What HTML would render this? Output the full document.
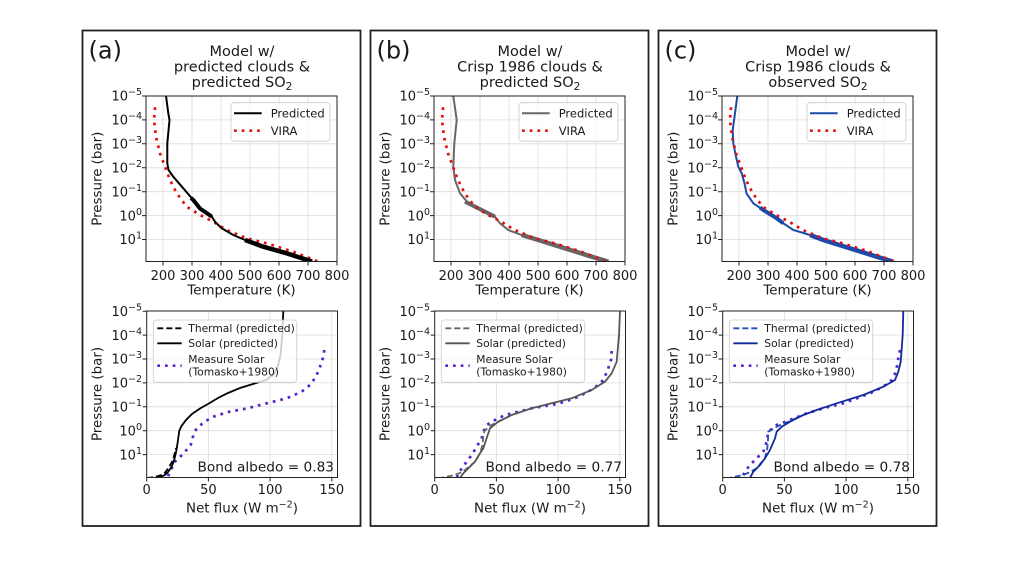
<!DOCTYPE html>
<html><head><meta charset="utf-8">
<style>
html,body{margin:0;padding:0;background:#fff;}
svg{display:block;}
text{font-family:"DejaVu Sans","Liberation Sans",sans-serif;fill:#1a1a1a;}
.g{stroke:#dcdcdc;stroke-width:0.8;fill:none;}
.sp{stroke:#222;stroke-width:1;fill:none;}
.tk{stroke:#222;stroke-width:1;}
.yt{font-size:13px;text-anchor:end;}
.xt{font-size:13px;text-anchor:middle;}
.al{font-size:13.4px;text-anchor:middle;}
.ti{font-size:14.5px;text-anchor:middle;}
.lg{font-size:11.5px;}
.lg2{font-size:10.7px;}
.ba{font-size:13.7px;text-anchor:end;}
.vira{fill:none;stroke:#e01010;stroke-width:2.7;stroke-dasharray:2.7 5;}
.meas{fill:none;stroke:#5a22cc;stroke-width:2.7;stroke-dasharray:2.7 5;}
</style></head>
<body>
<svg width="1024" height="577" viewBox="0 0 1024 577" xmlns="http://www.w3.org/2000/svg">
<rect width="1024" height="577" fill="#fff"/>
<defs>
<clipPath id="ct"><rect x="146" y="96" width="191" height="165.5"/></clipPath>
<clipPath id="cb"><rect x="146.7" y="311" width="190.8" height="166.5"/></clipPath>
</defs>

<!-- ================= PANEL A ================= -->
<g>
<rect x="82.5" y="30.5" width="278" height="495.5" fill="none" stroke="#222" stroke-width="1.8"/>
<text x="88.5" y="58.5" font-size="24">(a)</text>
<text class="ti" x="242" y="56">Model w/</text>
<text class="ti" x="242" y="71.5">predicted clouds &amp;</text>
<text class="ti" x="242" y="87">predicted SO<tspan font-size="10.5" dy="3">2</tspan></text>

<g class="g">
<path d="M163,96V261.5M192,96V261.5M221,96V261.5M250,96V261.5M279,96V261.5M308,96V261.5"/>
<path d="M146,119.9H337M146,143.8H337M146,167.8H337M146,191.7H337M146,215.6H337M146,239.5H337"/>
</g>
<g clip-path="url(#ct)">
<path class="vira" d="M155,107.3 L154,120 L156,136.7 L160,153.3 L165,166.7 L170,180 L176.7,193.3 L186.7,206.7 L200,215 L213.3,221.7 L226.7,230 L246.7,238.3 L266.7,243.3 L293.3,251.7 L318.3,261.7 L322,263"/>
<path fill="none" stroke="#000" stroke-width="2" d="M166,96 L168.3,113.3 L169.5,120 L167.3,143.3 L167.3,163.3 L168.5,170 L173.3,176.7 L183.3,188.3 L193.3,200 L200,208.5 L211.7,216.5 L215,221.7 L221.7,228.3 L233.3,235 L245,240 L263.3,246.7 L286.7,253.3 L312,261.5"/>
<path fill="none" stroke="#000" stroke-width="4" d="M191,198 L193.3,200 L200,208.5 L211.7,216.5"/>
<path fill="none" stroke="#000" stroke-width="4.5" d="M245,240 L263.3,246.7 L286.7,253.3 L312,261.5"/>
</g>
<rect x="231" y="102.7" width="99" height="38.5" rx="3" fill="#fff" fill-opacity="0.8" stroke="#cccccc" stroke-width="0.8"/>
<line x1="234" y1="113.3" x2="261.7" y2="113.3" stroke="#000" stroke-width="2"/>
<text class="lg" x="270.7" y="117.5">Predicted</text>
<line class="vira" x1="234" y1="130.7" x2="261.7" y2="130.7"/>
<text class="lg" x="270.7" y="134.9">VIRA</text>
<rect class="sp" x="146" y="96" width="191" height="165.5"/>
<path class="tk" d="M142,96H146M142,119.9H146M142,143.8H146M142,167.8H146M142,191.7H146M142,215.6H146M142,239.5H146"/>
<path class="tk" d="M163,261.5V265.5M192,261.5V265.5M221,261.5V265.5M250,261.5V265.5M279,261.5V265.5M308,261.5V265.5M337,261.5V265.5"/>
<text class="yt" x="142" y="100.7">10<tspan dy="-5.5" font-size="9.5">−5</tspan></text>
<text class="yt" x="142" y="124.6">10<tspan dy="-5.5" font-size="9.5">−4</tspan></text>
<text class="yt" x="142" y="148.5">10<tspan dy="-5.5" font-size="9.5">−3</tspan></text>
<text class="yt" x="142" y="172.5">10<tspan dy="-5.5" font-size="9.5">−2</tspan></text>
<text class="yt" x="142" y="196.4">10<tspan dy="-5.5" font-size="9.5">−1</tspan></text>
<text class="yt" x="142" y="220.3">10<tspan dy="-5.5" font-size="9.5">0</tspan></text>
<text class="yt" x="142" y="244.2">10<tspan dy="-5.5" font-size="9.5">1</tspan></text>
<text class="xt" x="163" y="280">200</text>
<text class="xt" x="192" y="280">300</text>
<text class="xt" x="221" y="280">400</text>
<text class="xt" x="250" y="280">500</text>
<text class="xt" x="279" y="280">600</text>
<text class="xt" x="308" y="280">700</text>
<text class="xt" x="337" y="280">800</text>
<text class="al" x="241.5" y="294.5">Temperature (K)</text>
<text class="al" transform="translate(101.5,178.7) rotate(-90)">Pressure (bar)</text>

<g class="g">
<path d="M208.4,311V477.5M270.1,311V477.5M331.8,311V477.5"/>
<path d="M146.7,335.1H337.5M146.7,359H337.5M146.7,382.9H337.5M146.7,406.8H337.5M146.7,430.7H337.5M146.7,454.6H337.5"/>
</g>
<g clip-path="url(#cb)">
<path class="meas" d="M324.3,350 L323.3,357 L320,366.7 L316,376.7 L310,385 L301.7,391.7 L286.7,398.3 L266.7,403.3 L246.7,408.5 L228,412 L214,416.5 L205,421.5 L198,427 L195,431 L192.5,438 L190.7,445 L185,451.7 L180,457 L175,461.7 L170,471.7 L167.3,478"/>
<path fill="none" stroke="#000" stroke-width="1.8" stroke-dasharray="6 3" d="M147,478 L153,477.3 L160,475.5 L165,472.7 L169,467 L172,462 L174,456 L176,448"/>
<path fill="none" stroke="#000" stroke-width="1.8" d="M283.3,311 L282.3,335 L280.5,355 L278,366 L274,374 L266,380 L253,384 L240,388 L228,393 L218,398 L208,404 L200,408.5 L192,414 L186,420 L181.5,426 L179.3,430.7 L178,440 L176.5,450 L175,456.7 L173.5,462 L171.7,466.7 L168,472 L165,475 L160,477 L157,478"/>
</g>
<rect x="153.3" y="320" width="143.4" height="62.3" rx="3" fill="#fff" fill-opacity="0.8" stroke="#cccccc" stroke-width="0.8"/>
<line x1="157.3" y1="328.3" x2="181.7" y2="328.3" stroke="#000" stroke-width="1.8" stroke-dasharray="6 3"/>
<text class="lg2" x="188.3" y="332">Thermal (predicted)</text>
<line x1="157.3" y1="343.3" x2="181.7" y2="343.3" stroke="#000" stroke-width="1.8"/>
<text class="lg2" x="188.3" y="347">Solar (predicted)</text>
<line class="meas" x1="157.3" y1="365.7" x2="181.7" y2="365.7"/>
<text class="lg2" x="188.3" y="363">Measure Solar</text>
<text class="lg2" x="188.3" y="375.5">(Tomasko+1980)</text>
<text class="ba" x="334" y="471.5">Bond albedo = 0.83</text>
<rect class="sp" x="146.7" y="311" width="190.8" height="166.5"/>
<path class="tk" d="M142.7,311.2H146.7M142.7,335.1H146.7M142.7,359H146.7M142.7,382.9H146.7M142.7,406.8H146.7M142.7,430.7H146.7M142.7,454.6H146.7"/>
<path class="tk" d="M146.7,477.5V481.5M208.4,477.5V481.5M270.1,477.5V481.5M331.8,477.5V481.5"/>
<text class="yt" x="142" y="315.9">10<tspan dy="-5.5" font-size="9.5">−5</tspan></text>
<text class="yt" x="142" y="339.8">10<tspan dy="-5.5" font-size="9.5">−4</tspan></text>
<text class="yt" x="142" y="363.7">10<tspan dy="-5.5" font-size="9.5">−3</tspan></text>
<text class="yt" x="142" y="387.6">10<tspan dy="-5.5" font-size="9.5">−2</tspan></text>
<text class="yt" x="142" y="411.5">10<tspan dy="-5.5" font-size="9.5">−1</tspan></text>
<text class="yt" x="142" y="435.4">10<tspan dy="-5.5" font-size="9.5">0</tspan></text>
<text class="yt" x="142" y="459.3">10<tspan dy="-5.5" font-size="9.5">1</tspan></text>
<text class="xt" x="146.7" y="494">0</text>
<text class="xt" x="208.4" y="494">50</text>
<text class="xt" x="270.1" y="494">100</text>
<text class="xt" x="331.8" y="494">150</text>
<text class="al" x="242" y="512.5">Net flux (W m<tspan dy="-5" font-size="9.5">−2</tspan><tspan dy="5">)</tspan></text>
<text class="al" transform="translate(101.5,394) rotate(-90)">Pressure (bar)</text>
</g>

<!-- ================= PANEL B ================= -->
<g transform="translate(288,0)">
<rect x="82.5" y="30.5" width="278" height="495.5" fill="none" stroke="#222" stroke-width="1.8"/>
<text x="88.5" y="58.5" font-size="24">(b)</text>
<text class="ti" x="242" y="56">Model w/</text>
<text class="ti" x="242" y="71.5">Crisp 1986 clouds &amp;</text>
<text class="ti" x="242" y="87">predicted SO<tspan font-size="10.5" dy="3">2</tspan></text>

<g class="g">
<path d="M163,96V261.5M192,96V261.5M221,96V261.5M250,96V261.5M279,96V261.5M308,96V261.5"/>
<path d="M146,119.9H337M146,143.8H337M146,167.8H337M146,191.7H337M146,215.6H337M146,239.5H337"/>
</g>
<g clip-path="url(#ct)">
<path fill="none" stroke="#666" stroke-width="2" d="M165.3,96 L168.7,120 L166.3,143.3 L165.3,166.7 L167,180 L172,193.3 L180.3,203.3 L193.7,210 L207,216.7 L212,223.3 L220.3,230 L233.7,235 L250.3,240 L277,248.3 L303.7,256.7 L320.3,261.7 L324,263"/>
<path fill="none" stroke="#666" stroke-width="4" d="M177,201.5 L180.3,203.3 L193.7,210 L207,216.7"/>
<path fill="none" stroke="#666" stroke-width="4.5" d="M233.7,235 L250.3,240 L277,248.3 L303.7,256.7 L320.3,261.7"/>
<path class="vira" d="M155,107.3 L154,120 L156,136.7 L160,153.3 L165,166.7 L170,180 L176.7,193.3 L186.7,206.7 L200,215 L213.3,221.7 L226.7,230 L246.7,238.3 L266.7,243.3 L293.3,251.7 L318.3,261.7 L322,263"/>
</g>
<rect x="231" y="102.7" width="99" height="38.5" rx="3" fill="#fff" fill-opacity="0.8" stroke="#cccccc" stroke-width="0.8"/>
<line x1="234" y1="113.3" x2="261.7" y2="113.3" stroke="#666" stroke-width="2"/>
<text class="lg" x="270.7" y="117.5">Predicted</text>
<line class="vira" x1="234" y1="130.7" x2="261.7" y2="130.7"/>
<text class="lg" x="270.7" y="134.9">VIRA</text>
<rect class="sp" x="146" y="96" width="191" height="165.5"/>
<path class="tk" d="M142,96H146M142,119.9H146M142,143.8H146M142,167.8H146M142,191.7H146M142,215.6H146M142,239.5H146"/>
<path class="tk" d="M163,261.5V265.5M192,261.5V265.5M221,261.5V265.5M250,261.5V265.5M279,261.5V265.5M308,261.5V265.5M337,261.5V265.5"/>
<text class="yt" x="142" y="100.7">10<tspan dy="-5.5" font-size="9.5">−5</tspan></text>
<text class="yt" x="142" y="124.6">10<tspan dy="-5.5" font-size="9.5">−4</tspan></text>
<text class="yt" x="142" y="148.5">10<tspan dy="-5.5" font-size="9.5">−3</tspan></text>
<text class="yt" x="142" y="172.5">10<tspan dy="-5.5" font-size="9.5">−2</tspan></text>
<text class="yt" x="142" y="196.4">10<tspan dy="-5.5" font-size="9.5">−1</tspan></text>
<text class="yt" x="142" y="220.3">10<tspan dy="-5.5" font-size="9.5">0</tspan></text>
<text class="yt" x="142" y="244.2">10<tspan dy="-5.5" font-size="9.5">1</tspan></text>
<text class="xt" x="163" y="280">200</text>
<text class="xt" x="192" y="280">300</text>
<text class="xt" x="221" y="280">400</text>
<text class="xt" x="250" y="280">500</text>
<text class="xt" x="279" y="280">600</text>
<text class="xt" x="308" y="280">700</text>
<text class="xt" x="337" y="280">800</text>
<text class="al" x="241.5" y="294.5">Temperature (K)</text>
<text class="al" transform="translate(101.5,178.7) rotate(-90)">Pressure (bar)</text>

<g class="g">
<path d="M208.4,311V477.5M270.1,311V477.5M331.8,311V477.5"/>
<path d="M146.7,335.1H337.5M146.7,359H337.5M146.7,382.9H337.5M146.7,406.8H337.5M146.7,430.7H337.5M146.7,454.6H337.5"/>
</g>
<g clip-path="url(#cb)">
<path class="meas" d="M323.7,351 L323,360 L319.7,370 L315.3,380 L310.3,385 L300.3,391.7 L290.3,396.7 L277,401.7 L263.7,405 L243.7,408.3 L230.3,411.7 L217,415 L207,420 L198.7,425 L195.3,431.7 L193.7,438.3 L188.7,446.7 L183.7,455 L178.7,461.7 L173.7,468.3 L170.3,474.3 L168.7,478"/>
<path fill="none" stroke="#666" stroke-width="1.8" stroke-dasharray="6 3" d="M150,478.5 L153.7,477.7 L160,476.5 L167,475 L172,473 L177,470 L182,466 L187,461.7 L192,453.3 L194.5,445 L195.3,436 L196.5,431 L202,425.7 L210.3,421.7 L223.7,415"/>
<path fill="none" stroke="#555" stroke-width="1.8" d="M332,311 L331,335 L328.7,361.7 L323.7,373.3 L317,381.7 L303.7,390 L283.7,398.3 L263.7,403.3 L243.7,408.3 L223.7,415 L210.3,421.7 L202,428.3 L199.7,435 L195.3,448.3 L192,453.3 L187,461.7 L180.3,468.3 L175.3,473.3 L172,478"/>
</g>
<rect x="153.3" y="320" width="143.4" height="62.3" rx="3" fill="#fff" fill-opacity="0.8" stroke="#cccccc" stroke-width="0.8"/>
<line x1="157.3" y1="328.3" x2="181.7" y2="328.3" stroke="#666" stroke-width="1.8" stroke-dasharray="6 3"/>
<text class="lg2" x="188.3" y="332">Thermal (predicted)</text>
<line x1="157.3" y1="343.3" x2="181.7" y2="343.3" stroke="#555" stroke-width="1.8"/>
<text class="lg2" x="188.3" y="347">Solar (predicted)</text>
<line class="meas" x1="157.3" y1="365.7" x2="181.7" y2="365.7"/>
<text class="lg2" x="188.3" y="363">Measure Solar</text>
<text class="lg2" x="188.3" y="375.5">(Tomasko+1980)</text>
<text class="ba" x="334" y="471.5">Bond albedo = 0.77</text>
<rect class="sp" x="146.7" y="311" width="190.8" height="166.5"/>
<path class="tk" d="M142.7,311.2H146.7M142.7,335.1H146.7M142.7,359H146.7M142.7,382.9H146.7M142.7,406.8H146.7M142.7,430.7H146.7M142.7,454.6H146.7"/>
<path class="tk" d="M146.7,477.5V481.5M208.4,477.5V481.5M270.1,477.5V481.5M331.8,477.5V481.5"/>
<text class="yt" x="142" y="315.9">10<tspan dy="-5.5" font-size="9.5">−5</tspan></text>
<text class="yt" x="142" y="339.8">10<tspan dy="-5.5" font-size="9.5">−4</tspan></text>
<text class="yt" x="142" y="363.7">10<tspan dy="-5.5" font-size="9.5">−3</tspan></text>
<text class="yt" x="142" y="387.6">10<tspan dy="-5.5" font-size="9.5">−2</tspan></text>
<text class="yt" x="142" y="411.5">10<tspan dy="-5.5" font-size="9.5">−1</tspan></text>
<text class="yt" x="142" y="435.4">10<tspan dy="-5.5" font-size="9.5">0</tspan></text>
<text class="yt" x="142" y="459.3">10<tspan dy="-5.5" font-size="9.5">1</tspan></text>
<text class="xt" x="146.7" y="494">0</text>
<text class="xt" x="208.4" y="494">50</text>
<text class="xt" x="270.1" y="494">100</text>
<text class="xt" x="331.8" y="494">150</text>
<text class="al" x="242" y="512.5">Net flux (W m<tspan dy="-5" font-size="9.5">−2</tspan><tspan dy="5">)</tspan></text>
<text class="al" transform="translate(101.5,394) rotate(-90)">Pressure (bar)</text>
</g>

<!-- ================= PANEL C ================= -->
<g transform="translate(576,0)">
<rect x="82.5" y="30.5" width="278" height="495.5" fill="none" stroke="#222" stroke-width="1.8"/>
<text x="88.5" y="58.5" font-size="24">(c)</text>
<text class="ti" x="242" y="56">Model w/</text>
<text class="ti" x="242" y="71.5">Crisp 1986 clouds &amp;</text>
<text class="ti" x="242" y="87">observed SO<tspan font-size="10.5" dy="3">2</tspan></text>

<g class="g">
<path d="M163,96V261.5M192,96V261.5M221,96V261.5M250,96V261.5M279,96V261.5M308,96V261.5"/>
<path d="M146,119.9H337M146,143.8H337M146,167.8H337M146,191.7H337M146,215.6H337M146,239.5H337"/>
</g>
<g clip-path="url(#ct)">
<path fill="none" stroke="#1a4aaa" stroke-width="2" d="M161.3,96 L159,113.3 L156.7,130 L157.3,143.3 L160,156.7 L162.3,166.7 L165.7,173.3 L168.5,183.3 L170.5,193.3 L177.3,203.3 L187.3,210 L200.7,218.3 L207.3,223.3 L217.3,230 L234,235 L247.3,240 L274,248.3 L300.7,256.7 L317.3,261.7 L321,263"/>
<path fill="none" stroke="#1a4aaa" stroke-width="4" d="M184,207.5 L187.3,210 L200.7,218.3 L207.3,223.3"/>
<path fill="none" stroke="#1a4aaa" stroke-width="4.5" d="M234,235 L247.3,240 L274,248.3 L300.7,256.7 L317.3,261.7"/>
<path class="vira" d="M155,107.3 L154,120 L156,136.7 L160,153.3 L165,166.7 L170,180 L176.7,193.3 L186.7,206.7 L200,215 L213.3,221.7 L226.7,230 L246.7,238.3 L266.7,243.3 L293.3,251.7 L318.3,261.7 L322,263"/>
</g>
<rect x="231" y="102.7" width="99" height="38.5" rx="3" fill="#fff" fill-opacity="0.8" stroke="#cccccc" stroke-width="0.8"/>
<line x1="234" y1="113.3" x2="261.7" y2="113.3" stroke="#1a4aaa" stroke-width="2"/>
<text class="lg" x="270.7" y="117.5">Predicted</text>
<line class="vira" x1="234" y1="130.7" x2="261.7" y2="130.7"/>
<text class="lg" x="270.7" y="134.9">VIRA</text>
<rect class="sp" x="146" y="96" width="191" height="165.5"/>
<path class="tk" d="M142,96H146M142,119.9H146M142,143.8H146M142,167.8H146M142,191.7H146M142,215.6H146M142,239.5H146"/>
<path class="tk" d="M163,261.5V265.5M192,261.5V265.5M221,261.5V265.5M250,261.5V265.5M279,261.5V265.5M308,261.5V265.5M337,261.5V265.5"/>
<text class="yt" x="142" y="100.7">10<tspan dy="-5.5" font-size="9.5">−5</tspan></text>
<text class="yt" x="142" y="124.6">10<tspan dy="-5.5" font-size="9.5">−4</tspan></text>
<text class="yt" x="142" y="148.5">10<tspan dy="-5.5" font-size="9.5">−3</tspan></text>
<text class="yt" x="142" y="172.5">10<tspan dy="-5.5" font-size="9.5">−2</tspan></text>
<text class="yt" x="142" y="196.4">10<tspan dy="-5.5" font-size="9.5">−1</tspan></text>
<text class="yt" x="142" y="220.3">10<tspan dy="-5.5" font-size="9.5">0</tspan></text>
<text class="yt" x="142" y="244.2">10<tspan dy="-5.5" font-size="9.5">1</tspan></text>
<text class="xt" x="163" y="280">200</text>
<text class="xt" x="192" y="280">300</text>
<text class="xt" x="221" y="280">400</text>
<text class="xt" x="250" y="280">500</text>
<text class="xt" x="279" y="280">600</text>
<text class="xt" x="308" y="280">700</text>
<text class="xt" x="337" y="280">800</text>
<text class="al" x="241.5" y="294.5">Temperature (K)</text>
<text class="al" transform="translate(101.5,178.7) rotate(-90)">Pressure (bar)</text>

<g class="g">
<path d="M208.4,311V477.5M270.1,311V477.5M331.8,311V477.5"/>
<path d="M146.7,335.1H337.5M146.7,359H337.5M146.7,382.9H337.5M146.7,406.8H337.5M146.7,430.7H337.5M146.7,454.6H337.5"/>
</g>
<g clip-path="url(#cb)">
<path class="meas" d="M324,350 L322.3,358.3 L320,371.7 L315.7,380 L307.3,386.7 L294,393.3 L280.7,398.3 L267.3,403.3 L247.3,408.3 L230.7,413.3 L214,420 L200.7,425 L192.3,431.7 L190.7,441.7 L187.3,451.7 L180.7,458.3 L174,465 L169,471.7 L165.7,478"/>
<path fill="none" stroke="#2050b8" stroke-width="1.8" stroke-dasharray="6 3" d="M150,478.5 L154,477.7 L160,476.5 L167.3,475 L174,472 L180.7,468.3 L185,463 L189,458.3 L191.3,448.3 L192,440 L192.3,431.7 L200.7,426.7 L214,421 L227.3,415"/>
<path fill="none" stroke="#0f2a9e" stroke-width="1.8" d="M327.3,311 L326.7,335 L324.7,361.7 L322.3,371.7 L319,380 L307.3,386.7 L287.3,395 L260.7,403.3 L240.7,410 L227.3,415 L214,421.7 L205.7,426.7 L200.7,431.7 L199,438.3 L194,450 L189,458.3 L184,465 L177.3,471.7 L174,478"/>
</g>
<rect x="153.3" y="320" width="143.4" height="62.3" rx="3" fill="#fff" fill-opacity="0.8" stroke="#cccccc" stroke-width="0.8"/>
<line x1="157.3" y1="328.3" x2="181.7" y2="328.3" stroke="#2050b8" stroke-width="1.8" stroke-dasharray="6 3"/>
<text class="lg2" x="188.3" y="332">Thermal (predicted)</text>
<line x1="157.3" y1="343.3" x2="181.7" y2="343.3" stroke="#0f2a9e" stroke-width="1.8"/>
<text class="lg2" x="188.3" y="347">Solar (predicted)</text>
<line class="meas" x1="157.3" y1="365.7" x2="181.7" y2="365.7"/>
<text class="lg2" x="188.3" y="363">Measure Solar</text>
<text class="lg2" x="188.3" y="375.5">(Tomasko+1980)</text>
<text class="ba" x="334" y="471.5">Bond albedo = 0.78</text>
<rect class="sp" x="146.7" y="311" width="190.8" height="166.5"/>
<path class="tk" d="M142.7,311.2H146.7M142.7,335.1H146.7M142.7,359H146.7M142.7,382.9H146.7M142.7,406.8H146.7M142.7,430.7H146.7M142.7,454.6H146.7"/>
<path class="tk" d="M146.7,477.5V481.5M208.4,477.5V481.5M270.1,477.5V481.5M331.8,477.5V481.5"/>
<text class="yt" x="142" y="315.9">10<tspan dy="-5.5" font-size="9.5">−5</tspan></text>
<text class="yt" x="142" y="339.8">10<tspan dy="-5.5" font-size="9.5">−4</tspan></text>
<text class="yt" x="142" y="363.7">10<tspan dy="-5.5" font-size="9.5">−3</tspan></text>
<text class="yt" x="142" y="387.6">10<tspan dy="-5.5" font-size="9.5">−2</tspan></text>
<text class="yt" x="142" y="411.5">10<tspan dy="-5.5" font-size="9.5">−1</tspan></text>
<text class="yt" x="142" y="435.4">10<tspan dy="-5.5" font-size="9.5">0</tspan></text>
<text class="yt" x="142" y="459.3">10<tspan dy="-5.5" font-size="9.5">1</tspan></text>
<text class="xt" x="146.7" y="494">0</text>
<text class="xt" x="208.4" y="494">50</text>
<text class="xt" x="270.1" y="494">100</text>
<text class="xt" x="331.8" y="494">150</text>
<text class="al" x="242" y="512.5">Net flux (W m<tspan dy="-5" font-size="9.5">−2</tspan><tspan dy="5">)</tspan></text>
<text class="al" transform="translate(101.5,394) rotate(-90)">Pressure (bar)</text>
</g>
</svg>
</body></html>
